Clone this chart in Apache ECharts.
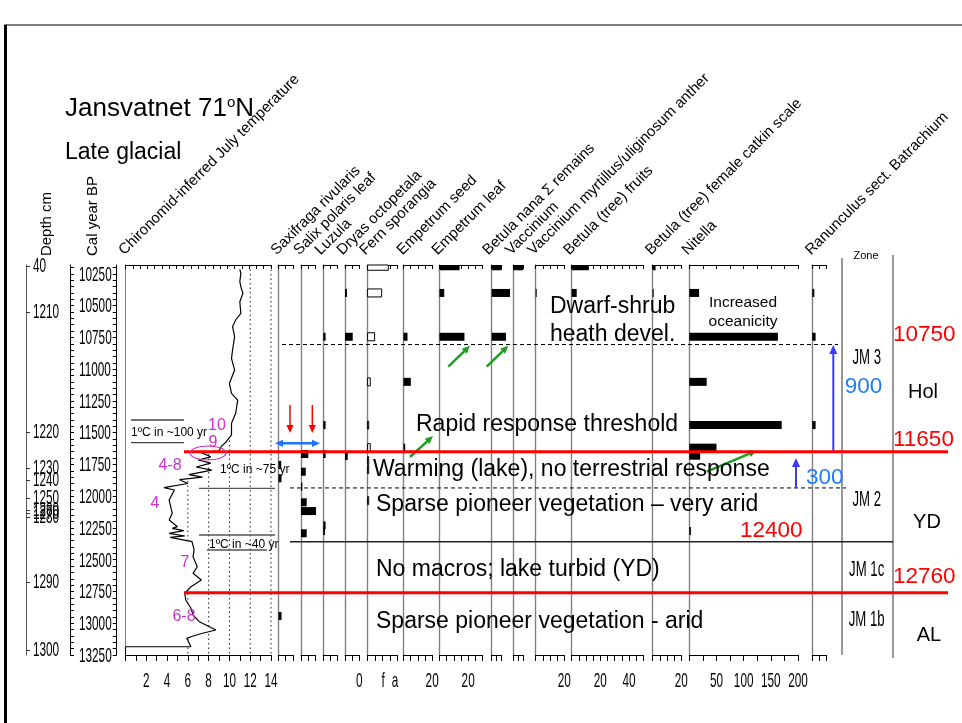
<!DOCTYPE html>
<html><head><meta charset="utf-8">
<script src="https://cdn.jsdelivr.net/npm/echarts@6/dist/echarts.min.js"></script>
<style>html,body{margin:0;padding:0;background:#fff}#c{width:962px;height:723px}</style>
</head><body><div id="c"></div>
<script>
// ---------------- DATA ----------------
const yearMin = 10180, yearMax = 13250;
const yearLabels = [10250,10500,10750,11000,11250,11500,11750,12000,12250,12500,12750,13000,13250];
const depthLabels = ['40','1210','1220','1230','1240','1250','1260','1270','1280','1290','1300'];
const depthAges   = [10190,10550,11495,11778,11872,12014,12109,12132,12164,12675,13215];

const tempAges = [10214,10245,10311,10351,10403,10469,10560,10613,10666,10744,10849,10915,11007,11111,11190,11243,11347,11426,11518,11571,11610,11642,11657,11690,11715,11740,11770,11795,11830,11850,11870,11900,11933,11951,12030,12135,12187,12240,12253,12271,12292,12313,12324,12358,12423,12476,12555,12607,12660,12712,12764,12817,12882,12935,12988,13053,13079,13106,13119,13185,13185];
const tempValues = [11.0,11.1,11.0,11.1,11.3,11.0,11.1,10.6,10.3,10.5,10.3,10.2,10.5,10.0,10.2,10.8,10.6,10.2,10.2,9.7,9.2,9.0,7.3,8.2,7.0,8.2,6.8,8.3,6.1,7.4,5.2,6.0,3.7,4.7,4.2,4.5,4.2,5.0,4.5,5.6,4.2,5.7,4.3,6.4,6.6,6.5,6.9,6.5,7.3,6.3,5.7,5.8,6.3,6.5,7.1,8.7,7.4,6.3,5.9,6.3,0];
const tempTickLabels = [2,4,6,8,10,12,14];
const tempGuides = [6,8,10,12,14];

const taxa = ['Saxifraga rivularis','Salix polaris leaf','Luzula','Dryas octopetala','Fern sporangia','Empetrum seed','Empetrum leaf','Betula nana \u03a3 remains','Vaccinium','Vaccinium myrtillus/uliginosum anther','Betula (tree) fruits','Betula (tree) female catkin scale','Nitella','Ranunculus sect. Batrachium'];

const saxAges = [11754,11859,12943];            const saxVals = [1.9,2.1,2.1];
const salixAges = [11668,11807,11925,12048,12117,12292]; const salixVals = [5.1,3.3,0.9,4.0,10.5,4.0];
const luzulaAges = [10745,11440,11668,12230,12275];      const luzulaVals = [1.6,1.6,1.6,1.6,1.2];
const dryasAges = [10400,10745,11683];          const dryasVals = [1.4,5.4,1.9];
const fernAges = [10190,10400,10745,11100,11440,11618,11720,11790,12035]; const fernVals = [2.8,1.9,0.95,0.36,0.15,0.36,0.15,0.15,0.15];
const empSeedAges = [10745,11100,11618];        const empSeedVals = [2.8,5.1,1.2];
const empLeafAges = [10190,10400,10745];        const empLeafVals = [14,3.3,17.4];
const betNanaAges = [10190,10400,10745];        const betNanaVals = [7,12.8,10];
const vaccAges = [10190];                       const vaccVals = [7];
const vaccMyrAges = [10400];                    const vaccMyrVals = [0.7];
const betFruitAges = [10190,10400];             const betFruitVals = [12,3.5];
const betCatkinAges = [10190,10400];            const betCatkinVals = [2,0.7];
const nitellaAges = [10400,10745,11100,11440,11618,11681,12274]; const nitellaVals = [18,163,32,170,50,20,3];
const ranAges = [10400,10745,11440];            const ranVals = [1.4,2.3,2.3];

const dryasTickValues = [10];  const dryasTickLabels = ['0'];
const fernTickValues = [2.1,3.7]; const fernTickLabels = ['f','a'];
const empSeedTicks = [20];
const empLeafTicks = [20];
const vaccMyrTicks = [20];
const betFruitTicks = [20,40];
const betCatkinTicks = [20];
const nitellaTicks = [50,100,150,200];

const redBoundaries = [11650, 12760];
const dashedBoundaries = [10806, 11935];
const solidBoundary = 12358;

// ---------------- LAYOUT ----------------
const TOP = 265, HGT = 390;
const FONT = "'Liberation Sans', Arial, sans-serif";
const NSIZE = 21, NSCALE = 0.56;   // condensed tick-label look

const panelData = [
  [saxAges, saxVals], [salixAges, salixVals], [luzulaAges, luzulaVals], [dryasAges, dryasVals],
  [fernAges, fernVals], [empSeedAges, empSeedVals], [empLeafAges, empLeafVals], [betNanaAges, betNanaVals],
  [vaccAges, vaccVals], [vaccMyrAges, vaccMyrVals], [betFruitAges, betFruitVals], [betCatkinAges, betCatkinVals],
  [nitellaAges, nitellaVals], [ranAges, ranVals]
];
const panelLayout = [
  {left:278.5, max:10, ppu:1.433, tick:5},
  {left:301,   max:10, ppu:1.433, tick:5},
  {left:323.3, max:10, ppu:1.433, tick:5},
  {left:345,   max:10, ppu:1.433, tick:5, tv:dryasTickValues, tl:dryasTickLabels},
  {left:367.6, max:4,  ppu:7.4,   tick:1, hollow:true, tv:fernTickValues, tl:fernTickLabels},
  {left:403.5, max:20, ppu:1.433, tick:5, tv:empSeedTicks},
  {left:439.5, max:30, ppu:1.433, tick:5, tv:empLeafTicks},
  {left:491.7, max:7,  ppu:1.433, tick:3.5},
  {left:513.3, max:7,  ppu:1.433, tick:3.5},
  {left:535.7, max:20, ppu:1.433, tick:5, tv:vaccMyrTicks},
  {left:571.7, max:50, ppu:1.433, tick:5, tv:betFruitTicks},
  {left:652.7, max:20, ppu:1.433, tick:5, tv:betCatkinTicks},
  {left:689.3, max:200,ppu:0.5435,tick:25, tv:nitellaTicks},
  {left:812.3, max:10, ppu:1.433, tick:5}
];
const headerX = [126.7,279,301.7,323,345,367.7,405,440,490.7,513.3,535.7,571.7,653.3,690,813.3];

const grids = [], xAxes = [], yAxes = [], series = [];
function baseY(gi, extra){
  return Object.assign({type:'value', gridIndex:gi, min:yearMin, max:yearMax, inverse:true,
    axisLabel:{show:false}, axisTick:{show:false}, splitLine:{show:false},
    axisLine:{show:true, onZero:false, lineStyle:{color:'#000', width:1}}}, extra||{});
}
// condensed tick labels drawn through the axes' scales
function labelSeries(xi, yi, data, place){
  series.push({type:'custom', xAxisIndex:xi, yAxisIndex:yi, z:20, silent:true, clip:false,
    data: data.map((d,i)=>[d[0], d[1], i]),
    renderItem:(p,api)=>{
      const i=api.value(2); const c=api.coord([api.value(0), api.value(1)]);
      const pl=place(c, i);
      return {type:'text', x:pl.x, y:pl.y, scaleX:NSCALE,
        style:{text:pl.text, fontSize:NSIZE, fontFamily:FONT, fill:'#000', align:pl.align, verticalAlign:'middle'}};
    }});
}
// grid 0: depth
grids.push({left:26, top:TOP, width:44, height:HGT});
xAxes.push({type:'value', gridIndex:0, show:false, min:0, max:1});
yAxes.push(baseY(0, {
  axisLine:{show:true,onZero:false,lineStyle:{color:'#555',width:1}},
  axisTick:{show:true, inside:true, length:4, customValues:depthAges, lineStyle:{color:'#333'}}
}));
labelSeries(0, 0, depthAges.map(a=>[0,a]), (c,i)=>({x:c[0]+7, y:c[1], text:depthLabels[i], align:'left'}));
// grid 1: cal year
const minorYear=[]; for(let t=10200;t<=13250;t+=50) minorYear.push(t);
grids.push({left:70, top:TOP, width:46.7, height:HGT});
xAxes.push({type:'value', gridIndex:1, show:false, min:0, max:1});
yAxes.push(baseY(1, {
  axisTick:{show:true, inside:true, length:4, customValues:minorYear, lineStyle:{color:'#000'}}
}));
yAxes.push(baseY(1, {position:'right',
  axisTick:{show:true, inside:true, length:4, customValues:minorYear, lineStyle:{color:'#000'}}
}));
labelSeries(1, 1, yearLabels.map(a=>[0,a]), (c,i)=>({x:c[0]+9, y:c[1]+1, text:String(yearLabels[i]), align:'left'}));
// grid 2: temperature
const TG = 2;
grids.push({left:125.5, top:TOP, width:145.5, height:HGT});
const tempBottomX = xAxes.length;
xAxes.push({type:'value', gridIndex:TG, min:0, max:14, position:'bottom', interval:1,
  axisLine:{show:true,onZero:false,lineStyle:{color:'#000'}},
  axisTick:{show:true, length:6, lineStyle:{color:'#000'}},
  splitLine:{show:false}, axisLabel:{show:false}
});
xAxes.push({type:'value', gridIndex:TG, min:0, max:14, position:'top', interval:0.7,
  axisLine:{show:true,onZero:false,lineStyle:{color:'#000'}},
  axisTick:{show:true, inside:true, length:4, lineStyle:{color:'#000'}},
  axisLabel:{show:false}, splitLine:{show:false}
});
const tempY = yAxes.length;
yAxes.push(baseY(TG));
labelSeries(tempBottomX, tempY, tempTickLabels.map(v=>[v,yearMax]), (c,i)=>({x:c[0], y:c[1]+26, text:String(tempTickLabels[i]), align:'center'}));

// guide dotted lines
series.push({type:'custom', xAxisIndex:tempBottomX, yAxisIndex:tempY, z:1, silent:true,
  data: tempGuides.map(g=>[g, yearMin]),
  renderItem:(p,api)=>{const g=api.value(0); const a=api.coord([g,yearMin]), b=api.coord([g,yearMax]);
    return {type:'line', shape:{x1:a[0],y1:a[1],x2:b[0],y2:b[1]}, style:{stroke:'#222', lineWidth:1, lineDash:[1.5,3]}};}
});
// white fill left of curve
series.push({type:'custom', xAxisIndex:tempBottomX, yAxisIndex:tempY, z:2, silent:true,
  data:[[0, tempAges[0]]],
  renderItem:(p,api)=>{
    const pts=[api.coord([0,tempAges[0]])];
    for(let i=0;i<tempAges.length;i++) pts.push(api.coord([tempValues[i], tempAges[i]]));
    pts.push(api.coord([0,tempAges[tempAges.length-1]]));
    return {type:'polygon', shape:{points:pts}, style:{fill:'#fff'}};
  }
});
series.push({type:'line', xAxisIndex:tempBottomX, yAxisIndex:tempY, z:3, showSymbol:false, silent:true,
  data: tempAges.map((a,i)=>[tempValues[i], a]), lineStyle:{color:'#000', width:1.2}, animation:false});

// macro panels
panelLayout.forEach((L,k)=>{
  const gi = grids.length;
  const w = L.max*L.ppu;
  grids.push({left:L.left, top:TOP, width:w, height:HGT});
  const bx = xAxes.length;
  xAxes.push({type:'value', gridIndex:gi, min:0, max:L.max, interval:L.tick, position:'bottom',
    axisLine:{show:true,onZero:false,lineStyle:{color:'#000'}},
    axisTick:{show:true, length:6, lineStyle:{color:'#000'}}, splitLine:{show:false}, axisLabel:{show:false}});
  xAxes.push({type:'value', gridIndex:gi, min:0, max:L.max, interval:L.tick, position:'top',
    axisLine:{show:true,onZero:false,lineStyle:{color:'#000'}},
    axisTick:{show:true, inside:true, length:4, lineStyle:{color:'#000'}}, splitLine:{show:false}, axisLabel:{show:false}});
  const yi = yAxes.length;
  yAxes.push(baseY(gi, {axisLine:{show:true,onZero:false,lineStyle:{color:'#808080', width:1.4}}}));
  const [ages, vals] = panelData[k];
  series.push({type:'custom', xAxisIndex:bx, yAxisIndex:yi, z:5, silent:true,
    data: ages.map((a,i)=>[vals[i], a]),
    renderItem:(p,api)=>{
      const v=api.value(0), a=api.value(1);
      const p0=api.coord([0,a]), p1=api.coord([v,a]);
      const h=8; let y0=p0[1]-h/2, y1=p0[1]+h/2;
      const top=p.coordSys.y; if(y0<top) y0=top;
      const wd=Math.max(p1[0]-p0[0],1);
      return {type:'rect', shape:{x:p0[0], y:y0, width:wd, height:y1-y0},
        style: L.hollow ? {fill:'#fff', stroke:'#000', lineWidth:1} : {fill:'#000'}};
    }
  });
  if (L.tv) {
    labelSeries(bx, yi, L.tv.map(v=>[v,yearMax]), (c,i)=>({x:c[0], y:c[1]+26, text: L.tl ? L.tl[i] : String(L.tv[i]), align:'center'}));
  }
});

const chart = echarts.init(document.getElementById('c'), null, {width:962, height:723});
chart.setOption({
  backgroundColor:'#fff', animation:false,
  textStyle:{fontFamily:FONT},
  grid:grids, xAxis:xAxes, yAxis:yAxes, series:series
});

// ---------------- ANNOTATIONS ----------------
const Y = age => chart.convertToPixel({gridIndex:TG}, [0, age])[1];
const G = [];
function txt(x,y,text,size,opt){
  opt=opt||{};
  G.push({type:'text', x, y, rotation:opt.rot||0, scaleX:opt.sx||1, z:60, silent:true,
    style:{text, fontSize:size, fontFamily:FONT, fill:opt.color||'#000',
      align:opt.align||'left', verticalAlign:opt.va||'middle', rich:opt.rich}});
}
function line(x1,y1,x2,y2,color,w,dash,z){
  G.push({type:'line', silent:true, z:z||40, shape:{x1,y1,x2,y2}, style:{stroke:color, lineWidth:w, lineDash:dash||null}});
}
function arrow(x1,y1,x2,y2,color,w,hs,both){
  const dx=x2-x1, dy=y2-y1, L=Math.hypot(dx,dy), ux=dx/L, uy=dy/L, px=-uy, py=ux;
  const head=(tx,ty,sx,sy)=>({type:'polygon', silent:true, z:51, shape:{points:[[tx,ty],
    [tx-sx*hs+px*hs*0.45, ty-sy*hs+py*hs*0.45],[tx-sx*hs-px*hs*0.45, ty-sy*hs-py*hs*0.45]]}, style:{fill:color}});
  const s1x = both? x1+ux*hs*0.8 : x1, s1y = both? y1+uy*hs*0.8 : y1;
  G.push({type:'line', silent:true, z:50, shape:{x1:s1x,y1:s1y,x2:x2-ux*hs*0.8,y2:y2-uy*hs*0.8}, style:{stroke:color, lineWidth:w}});
  G.push(head(x2,y2,ux,uy)); if(both) G.push(head(x1,y1,-ux,-uy));
}

// frame
line(5.5,25,5.5,723,'#000',3);
line(4,25,962,25,'#000',1.2);

// titles
txt(65,109,'{a|Jansvatnet 71}{b|o}{a|N}',26,{rich:{a:{fontSize:26,fontFamily:FONT},b:{fontSize:15,fontFamily:FONT,verticalAlign:'top',padding:[0,0,12,0]}}});
txt(65,153,'Late glacial',23);
txt(47,224,'Depth cm',15,{rot:Math.PI/2,align:'center'});
txt(93,216,'Cal year BP',15,{rot:Math.PI/2,align:'center'});
// rotated headers
const headers = ['Chironomid-inferred July temperature'].concat(taxa);
headers.forEach((h,i)=>txt(headerX[i],258,h,15,{rot:Math.PI/4,va:'bottom'}));
txt(866,256,'Zone',11,{align:'center'});

// zone column lines
line(842,258,842,655,'#333',1);
line(893,255,893,658,'#333',1);

// boundaries
const ys1 = Y(solidBoundary);
line(290,ys1,893,ys1,'#222',1.5);
const dashX = [[282,838],[290,846]];
dashedBoundaries.forEach((a,i)=>{const y=Y(a); line(dashX[i][0],y,dashX[i][1],y,'#000',1,[4,3]);});
redBoundaries.forEach(a=>{const y=Y(a); line(184,y,948,y,'#ff0000',3,null,55);});

// temperature annotation lines
line(131,420,184,420,'#444',1.3); line(131,442.7,184,442.7,'#444',1.3);
line(199,488.3,275,488.3,'#555',1.3);
line(199,535,275,535,'#555',1.3); line(207,550,267,550,'#555',1.3);
txt(131,433,'1\u00baC in ~100 yr',12);
txt(220,470,'1\u00baC in ~75 yr',12);
txt(209,545,'1\u00baC in ~40 yr',12);

// magenta
const MAG='#cc33cc';
txt(217,426,'10',16,{color:MAG,align:'center'});
txt(213,443,'9',16,{color:MAG,align:'center'});
txt(170,466,'4-8',16,{color:MAG,align:'center'});
txt(155,504,'4',16,{color:MAG,align:'center'});
txt(185,563,'7',16,{color:MAG,align:'center'});
txt(184,617,'6-8',16,{color:MAG,align:'center'});
G.push({type:'ellipse', silent:true, z:56, shape:{cx:208,cy:453,rx:18,ry:7}, style:{fill:null, stroke:MAG, lineWidth:1.2}});

// main texts
txt(550,307,'Dwarf-shrub',23);
txt(550,335,'heath devel.',23);
txt(743,303,'Increased',15.5,{align:'center'});
txt(743,322,'oceanicity',15.5,{align:'center'});
txt(416,425,'Rapid response threshold',23);
txt(373,470,'Warming (lake), no terrestrial response',23);
txt(376,505,'Sparse pioneer vegetation \u2013 very arid',23);
txt(376,570,'No macros; lake turbid (YD)',23);
txt(376,622,'Sparse pioneer vegetation - arid',23);

// red numbers
txt(893,335,'10750',22.5,{color:'#ff0000'});
txt(893,440,'11650',22.5,{color:'#ff0000'});
txt(893,577,'12760',22.5,{color:'#ff0000'});
txt(740,531,'12400',22.5,{color:'#ff0000'});
// blue numbers
txt(863.5,387,'900',22.5,{color:'#1f7bff',align:'center'});
txt(806,478,'300',22.5,{color:'#1f7bff'});
// zones
txt(866.7,358,'JM 3',22,{align:'center',sx:0.6});
txt(866.7,500,'JM 2',22,{align:'center',sx:0.6});
txt(866.7,570,'JM 1c',22,{align:'center',sx:0.6});
txt(866.7,620,'JM 1b',22,{align:'center',sx:0.6});
txt(923,392,'Hol',20,{align:'center'});
txt(927,522,'YD',20,{align:'center'});
txt(929,635,'AL',20,{align:'center'});

// arrows
const GREEN='#1e9e1e';
arrow(448.3,366.7,470,345.7,GREEN,2.5,8);
arrow(486.7,366.7,508.3,345.7,GREEN,2.5,8);
arrow(410,457,433,436,GREEN,2.5,8);
arrow(706.7,471.7,756.7,450.7,GREEN,2.5,8);
arrow(833.3,451.7,833.3,345,'#3a3aff',2,9);
arrow(796,488,796,458,'#3a3aff',2,9);
arrow(290,405,290,433,'#ff0000',1.5,8);
arrow(312.3,405,312.3,433,'#ff0000',1.5,8);
arrow(275,443.3,320,443.3,'#1a75ff',2.5,8,true);

chart.setOption({graphic:{elements:G}});
</script></body></html>
